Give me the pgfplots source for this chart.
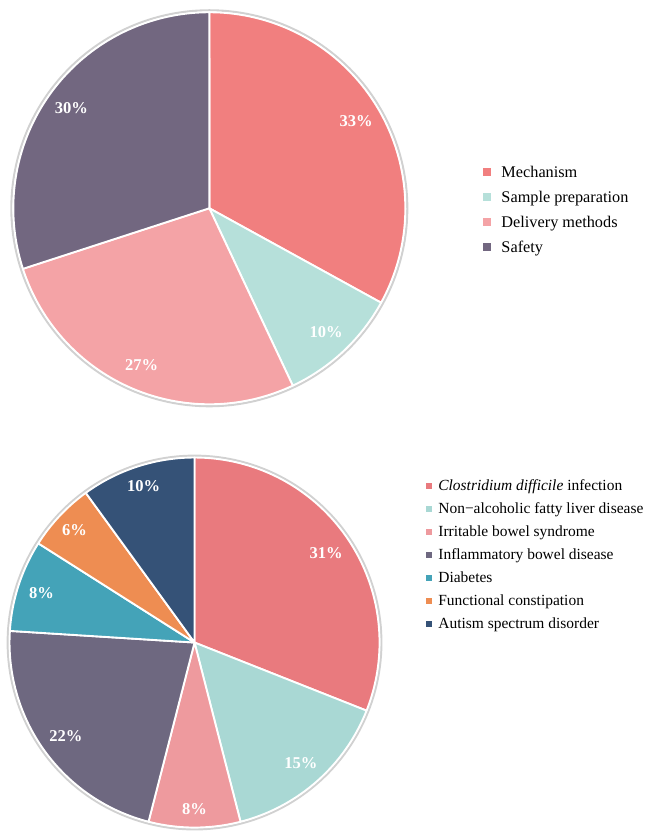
\documentclass[border=0pt]{standalone}
\usepackage{pgfplots}
\pgfplotsset{compat=1.18}
\usepackage{fontspec}
\setmainfont{Liberation Serif}
\definecolor{mech}{HTML}{F17F7F}
\definecolor{samp}{HTML}{B6E0DA}
\definecolor{deliv}{HTML}{F4A3A6}
\definecolor{safe}{HTML}{726780}
\definecolor{cdi}{HTML}{E97A7E}
\definecolor{nafl}{HTML}{A9D8D4}
\definecolor{ibs}{HTML}{EE9A9E}
\definecolor{ibd}{HTML}{6E6880}
\definecolor{diab}{HTML}{44A3B8}
\definecolor{fcon}{HTML}{EE8D52}
\definecolor{asd}{HTML}{355277}
\pgfplotsset{
  pie/.style={hide axis, scale only axis, clip=false, xmin=-1, xmax=1, ymin=-1, ymax=1,
    anchor=center, legend cell align=left},
  slice/.style={draw=white, line width=1.4pt, samples=80, line join=round},
  rim/.style={draw=black!18, line width=1.6pt, domain=0:360, samples=200, forget plot},
}
\tikzset{lab/.style={font=\bfseries\fontsize{12.4}{12.4}\selectfont, text=white}}
\begin{document}
\begin{tikzpicture}
\useasboundingbox (0,0) rectangle (483.75pt,627pt);
% ---------------- top pie: 33, 10, 27, 30 ----------------
\begin{axis}[pie, at={(157pt,470.8pt)}, width=294pt, height=294pt,
  legend image code/.code={\fill[#1,draw=none] (0pt,-2.1pt) rectangle (6.2pt,4.1pt);},
  legend style={draw=none, fill=none, inner sep=0pt, at={(axis cs:1.396,-0.012)}, anchor=west,
    font=\fontsize{12.2}{12.2}\selectfont, row sep=6.75pt, column sep=7.5pt,
    nodes={inner sep=0pt, text height=9pt, text depth=3pt}}]
\addplot[rim] ({1.01*sin(x)},{1.01*cos(x)});
\addplot[slice, fill=mech, domain=0:118.8] ({sin(x)},{cos(x)}) -- (axis cs:0,0) -- cycle;
\addlegendentry{Mechanism}
\addplot[slice, fill=samp, domain=118.8:154.8] ({sin(x)},{cos(x)}) -- (axis cs:0,0) -- cycle;
\addlegendentry{Sample preparation}
\addplot[slice, fill=deliv, domain=154.8:252] ({sin(x)},{cos(x)}) -- (axis cs:0,0) -- cycle;
\addlegendentry{Delivery methods}
\addplot[slice, fill=safe, domain=252:360] ({sin(x)},{cos(x)}) -- (axis cs:0,0) -- cycle;
\addlegendentry{Safety}
\node[lab] at (axis cs:{0.87*sin(59.4)},{0.87*cos(59.4)}) {33\%};
\node[lab] at (axis cs:{0.87*sin(136.8)},{0.87*cos(136.8)}) {10\%};
\node[lab] at (axis cs:{0.87*sin(203.4)},{0.87*cos(203.4)}) {27\%};
\node[lab] at (axis cs:{0.87*sin(306)},{0.87*cos(306)}) {30\%};
\end{axis}
% ---------------- bottom pie: 31, 15, 8, 22, 8, 6, 10 ----------------
\begin{axis}[pie, at={(145.9pt,145.1pt)}, width=277.5pt, height=277.5pt,
  legend image code/.code={\fill[#1,draw=none] (0pt,-1.4pt) rectangle (4.6pt,3.2pt);},
  legend style={draw=none, fill=none, inner sep=0pt, at={(axis cs:1.251,0.468)}, anchor=west,
    font=\fontsize{11.6}{11.6}\selectfont, row sep=5.75pt, column sep=4.5pt,
    nodes={inner sep=0pt, text height=8.6pt, text depth=2.9pt}}]
\addplot[rim] ({1.01*sin(x)},{1.01*cos(x)});
\addplot[slice, fill=cdi, domain=0:111.6] ({sin(x)},{cos(x)}) -- (axis cs:0,0) -- cycle;
\addlegendentry{\textit{Clostridium difficile} infection}
\addplot[slice, fill=nafl, domain=111.6:165.6] ({sin(x)},{cos(x)}) -- (axis cs:0,0) -- cycle;
\addlegendentry{Non−alcoholic fatty liver disease}
\addplot[slice, fill=ibs, domain=165.6:194.4] ({sin(x)},{cos(x)}) -- (axis cs:0,0) -- cycle;
\addlegendentry{Irritable bowel syndrome}
\addplot[slice, fill=ibd, domain=194.4:273.6] ({sin(x)},{cos(x)}) -- (axis cs:0,0) -- cycle;
\addlegendentry{Inflammatory bowel disease}
\addplot[slice, fill=diab, domain=273.6:302.4] ({sin(x)},{cos(x)}) -- (axis cs:0,0) -- cycle;
\addlegendentry{Diabetes}
\addplot[slice, fill=fcon, domain=302.4:324] ({sin(x)},{cos(x)}) -- (axis cs:0,0) -- cycle;
\addlegendentry{Functional constipation}
\addplot[slice, fill=asd, domain=324:360] ({sin(x)},{cos(x)}) -- (axis cs:0,0) -- cycle;
\addlegendentry{Autism spectrum disorder}
\node[lab] at (axis cs:{0.86*sin(55.8)},{0.86*cos(55.8)}) {31\%};
\node[lab] at (axis cs:{0.87*sin(138.6)},{0.87*cos(138.6)}) {15\%};
\node[lab] at (axis cs:{0.9*sin(180)},{0.9*cos(180)}) {8\%};
\node[lab] at (axis cs:{0.86*sin(234)},{0.86*cos(234)}) {22\%};
\node[lab] at (axis cs:{0.87*sin(288)},{0.87*cos(288)}) {8\%};
\node[lab] at (axis cs:{0.89*sin(313.2)},{0.89*cos(313.2)}) {6\%};
\node[lab] at (axis cs:{0.89*sin(342)},{0.89*cos(342)}) {10\%};
\end{axis}
\end{tikzpicture}
\end{document}
